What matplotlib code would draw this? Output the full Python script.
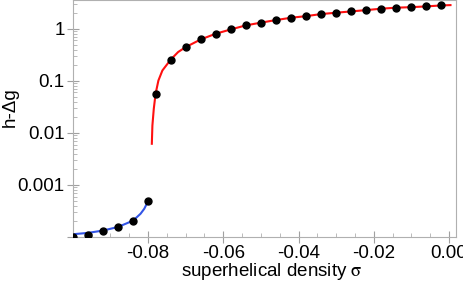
import numpy as np
import matplotlib
matplotlib.use("Agg")
import matplotlib.pyplot as plt
from matplotlib.ticker import FixedLocator, NullFormatter

plt.rcParams['font.family'] = ['Liberation Sans', 'DejaVu Sans']
plt.rcParams['mathtext.fontset'] = 'stix'

# dots
blue_x = [-0.100, -0.096, -0.092, -0.088, -0.084, -0.080]
blue_y = [1.0e-4, 1.09e-4, 1.29e-4, 1.54e-4, 2.06e-4, 4.9e-4]

red_x = [-0.078, -0.074, -0.070, -0.066, -0.062, -0.058, -0.054, -0.050,
         -0.046, -0.042, -0.038, -0.034, -0.030, -0.026, -0.022, -0.018,
         -0.014, -0.010, -0.006, -0.002]
red_y = [0.0568, 0.256, 0.447, 0.628, 0.809, 0.978, 1.17, 1.32, 1.48, 1.64,
         1.76, 1.93, 2.05, 2.17, 2.30, 2.45, 2.56, 2.62, 2.71, 2.83]

# curves
blue_line_x = [-0.100, -0.096, -0.092, -0.088, -0.084, -0.082, -0.081, -0.080]
blue_line_y = [1.13e-4, 1.2e-4, 1.33e-4, 1.56e-4, 2.06e-4, 2.8e-4, 3.5e-4, 4.9e-4]

red_line_x = [-0.0790, -0.07885, -0.07848, -0.078, -0.07725, -0.07619, -0.074,
              -0.072, -0.070] + red_x[3:] + [0.0004]
red_line_y = [0.0062, 0.0139, 0.0292, 0.0568, 0.102, 0.159, 0.256,
              0.36, 0.447] + red_y[3:] + [2.87]

fig = plt.figure(figsize=(4.64, 2.83), dpi=100)
ax = fig.add_axes([0.157, 0.1625, 0.826, 0.836])

ax.plot(blue_line_x, blue_line_y, color='#3355e6', lw=1.5, zorder=2)
ax.plot(red_line_x, red_line_y, color='#ff1010', lw=1.5, zorder=2)
ax.plot(blue_x, blue_y, 'o', color='black', ms=5, zorder=3)
ax.plot(red_x, red_y, 'o', color='black', ms=5, zorder=3)

ax.set_yscale('log')
ax.set_xlim(-0.1, 0.0019)
ax.set_ylim(1e-4, 3.53)

ax.set_xticks([-0.08, -0.06, -0.04, -0.02, 0.0])
ax.set_xticklabels(['-0.08', '-0.06', '-0.04', '-0.02', '0.00'])
ax.xaxis.set_minor_locator(FixedLocator(np.arange(-0.095, 0.001, 0.005)))
ax.set_yticks([1e-4, 1e-3, 1e-2, 1e-1, 1])
ax.set_yticklabels(['', '0.001', '0.01', '0.1', '1'])
minors = [m * 10.0 ** e for e in range(-4, 1) for m in range(2, 10)]
ax.yaxis.set_minor_locator(FixedLocator(minors))
ax.yaxis.set_minor_formatter(NullFormatter())

for s in ax.spines.values():
    s.set_color('#b0b0b0')
ax.tick_params(which='major', direction='inout', length=8, color='#a0a0a0',
               labelsize=13.5, pad=2)
ax.tick_params(which='minor', direction='in', length=3, color='#b0b0b0')
ax.tick_params(top=False, right=False, which='both')

ax.set_xlabel(r'superhelical density $\mathrm{\sigma}$', fontsize=13.5)
ax.set_ylabel('h-Δg', fontsize=13.5)
ax.xaxis.set_label_coords(0.52, -0.1)
ax.yaxis.set_label_coords(-0.14, 0.55)

fig.savefig('out.png', dpi=100)
